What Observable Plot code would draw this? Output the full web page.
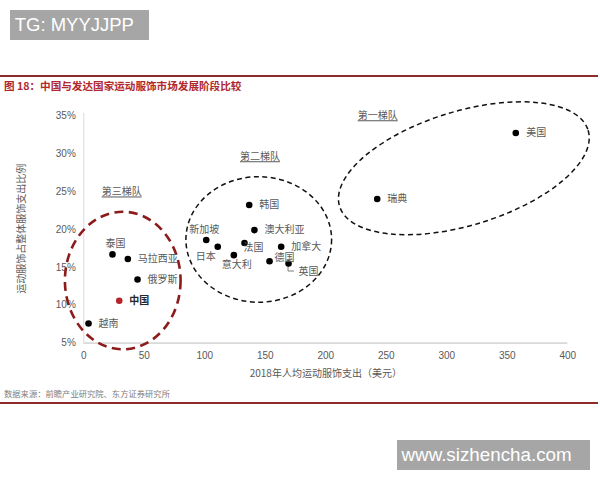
<!DOCTYPE html>
<html><head><meta charset="utf-8">
<script src="https://cdn.jsdelivr.net/npm/d3@7"></script>
<script src="https://cdn.jsdelivr.net/npm/@observablehq/plot@0.6"></script>
<style>
html,body{margin:0;padding:0;background:#fff;}
#page{position:relative;width:600px;height:480px;overflow:hidden;font-family:"Liberation Sans","Noto Sans CJK SC",sans-serif;}
.wm{position:absolute;background:#a6a6a6;color:#fff;box-sizing:border-box;white-space:nowrap;}
#wm1{left:10px;top:10px;width:139px;height:29.5px;font-size:18.5px;line-height:30px;padding-left:4.7px;}
#wm2{left:397px;top:440px;width:193px;height:29.5px;font-size:18.8px;line-height:30px;padding-left:4.5px;}
.rule{position:absolute;left:0;width:598px;background:#8e2a2a;}
#r1{top:75px;height:1.5px;}
#r2{top:402px;height:2px;}
#title{position:absolute;left:4px;top:79px;font-size:10.6px;line-height:14px;font-weight:bold;color:#b0272d;font-family:"Noto Sans CJK SC",sans-serif;white-space:nowrap;}
#source{position:absolute;left:4px;top:387px;font-size:8.3px;line-height:12px;color:#808080;font-family:"Noto Sans CJK SC",sans-serif;white-space:nowrap;}
#chart{position:absolute;left:0;top:95px;}
</style></head><body>
<div id="page">
  <div class="wm" id="wm1">TG: MYYJJPP</div>
  <div class="rule" id="r1"></div>
  <div id="title">图 18：中国与发达国家运动服饰市场发展阶段比较</div>
  <div id="chart"></div>
  <div id="source">数据来源：前瞻产业研究院、东方证券研究所</div>
  <div class="rule" id="r2"></div>
  <div class="wm" id="wm2">www.sizhencha.com</div>
</div>
<script>
// ---- data ----
const countries = ["越南","中国","俄罗斯","马拉西亚","泰国","新加坡","日本","意大利","法国","韩国","澳大利亚","德国","加拿大","英国","瑞典","美国"];
const spending  = [3.9, 29.3, 44.4, 36.4, 23.7, 101.2, 110.7, 124.0, 132.8, 136.7, 141.0, 153.5, 163.1, 169.2, 242.5, 357.0];
const share     = [7.6, 10.6, 13.4, 16.1, 16.7, 18.6, 17.7, 16.6, 18.2, 23.2, 19.9, 15.8, 17.7, 15.5, 24.0, 32.7];
const xTicks = [0, 50, 100, 150, 200, 250, 300, 350, 400];
const yTicks = [5, 10, 15, 20, 25, 30, 35];
const tierNames = ["第一梯队", "第二梯队", "第三梯队"];
const xLabel = "2018年人均运动服饰支出（美元）";
const yLabel = "运动服饰占整体服饰支出比例";

// ---- layout (annotation placement, not data) ----
const labelPlacement = {
  "越南":[10,0,"start"], "中国":[10,0,"start"], "俄罗斯":[10,0,"start"], "马拉西亚":[10,0,"start"],
  "泰国":[3,-11,"middle"], "新加坡":[-2,-10,"middle"], "日本":[-12,10,"middle"], "意大利":[3,10,"middle"],
  "法国":[-1,4.5,"start"], "韩国":[10,0,"start"], "澳大利亚":[10,0,"start"], "德国":[5,-3.5,"start"],
  "加拿大":[10,0,"start"], "英国":[10,8.5,"start"], "瑞典":[10,0,"start"], "美国":[10.5,0,"start"]
};
const tierShapes = {
  "第一梯队": {cx:314.5, cy:27.98, rx:107.4, ry:7.51, angle:-17, color:"#111", width:1.5, dash:"5,3.5", lx:243.3, ly:34.9},
  "第二梯队": {cx:145.0, cy:18.6, rx:60.2, ry:8.27, angle:0, color:"#111", width:1.5, dash:"5,3.5", lx:146, ly:29.5},
  "第三梯队": {cx:32.6, cy:13.19, rx:47.8, ry:9.06, angle:0, color:"#8c1c1c", width:2.6, dash:"9,5.5", lx:31.7, ly:24.86}
};

const rows = countries.map((name, i) => ({name, spend: spending[i], share: share[i]}));

function tierMark(index, scales) {
  const {x, y} = scales;
  const g = d3.create("svg:g");
  for (const name of tierNames) {
    const t = tierShapes[name];
    const cx = x(t.cx), cy = y(t.cy);
    const rx = x(t.cx + t.rx) - cx, ry = cy - y(t.cy + t.ry);
    g.append("ellipse").attr("cx", 0).attr("cy", 0).attr("rx", rx).attr("ry", ry)
      .attr("transform", `translate(${cx},${cy}) rotate(${t.angle})`)
      .attr("fill", "none").attr("stroke", t.color).attr("stroke-width", t.width)
      .attr("stroke-dasharray", t.dash);
    g.append("text").attr("x", x(t.lx)).attr("y", y(t.ly)).attr("dy", "0.35em")
      .attr("text-anchor", "middle").attr("fill", "#595959").attr("font-size", 10)
      .attr("font-family", "'Noto Sans CJK SC',sans-serif")
      .style("text-decoration", "underline").text(name);
  }
  // leader for 英国
  const uk = rows.find(d => d.name === "英国");
  const px = x(uk.spend), py = y(uk.share);
  g.append("path").attr("d", `M${px},${py + 3}V${py + 8}H${px + 6}`)
    .attr("fill", "none").attr("stroke", "#7f7f7f").attr("stroke-width", 1);
  return g.node();
}

function yLabelMark(index, scales, values, dimensions) {
  const {marginTop, marginBottom, height} = dimensions;
  const cy = (marginTop + height - marginBottom) / 2;
  return d3.create("svg:text")
    .attr("transform", `translate(21,${cy}) rotate(-90)`)
    .attr("dy", "0.35em").attr("text-anchor", "middle")
    .attr("fill", "#595959").attr("font-size", 10)
    .attr("font-family", "'Noto Sans CJK SC',sans-serif")
    .text(yLabel).node();
}

const labelMarks = rows.map(d => {
  const [dx, dy, anchor] = labelPlacement[d.name];
  return Plot.text([d], {x: "spend", y: "share", text: "name", dx, dy, textAnchor: anchor,
    fill: d.name === "中国" ? "#262626" : "#595959", fontSize: 10,
    fontWeight: d.name === "中国" ? "bold" : "normal",
    fontFamily: "'Noto Sans CJK SC',sans-serif"});
});

const chart = Plot.plot({
  width: 600, height: 295,
  marginLeft: 83.3, marginRight: 32.7, marginTop: 20, marginBottom: 47.3,
  style: {fontFamily: "'Liberation Sans','Noto Sans CJK SC',sans-serif", fontSize: "10px", color: "#595959", background: "transparent", overflow: "visible"},
  x: {domain: [0, 400]},
  y: {domain: [5, 35]},
  marks: [
    Plot.ruleX([0], {y1: 5, y2: 35.3, stroke: "#d9d9d9", strokeWidth: 1}),
    Plot.ruleY([5], {x1: 0, x2: 400, stroke: "#d9d9d9", strokeWidth: 1.8}),
    Plot.axisX({ticks: xTicks, tickSize: 0, tickPadding: 9, label: null, tickFormat: d => String(d), fill: "#595959"}),
    Plot.axisY({ticks: yTicks, tickSize: 0, tickPadding: 8, label: null, tickFormat: d => d + "%", fill: "#595959"}),
    Plot.text([xLabel], {frameAnchor: "bottom", lineAnchor: "middle", dy: 30.6, text: d => d, fill: "#595959", fontSize: 10, fontFamily: "'Noto Sans CJK SC',sans-serif"}),
    yLabelMark,
    tierMark,
    Plot.dot(rows.filter(d => d.name !== "中国"), {x: "spend", y: "share", r: 3.3, fill: "#000"}),
    Plot.dot(rows.filter(d => d.name === "中国"), {x: "spend", y: "share", r: 3.3, fill: "#b5252a"}),
    ...labelMarks
  ]
});
document.getElementById("chart").appendChild(chart);
</script>
</body></html>
